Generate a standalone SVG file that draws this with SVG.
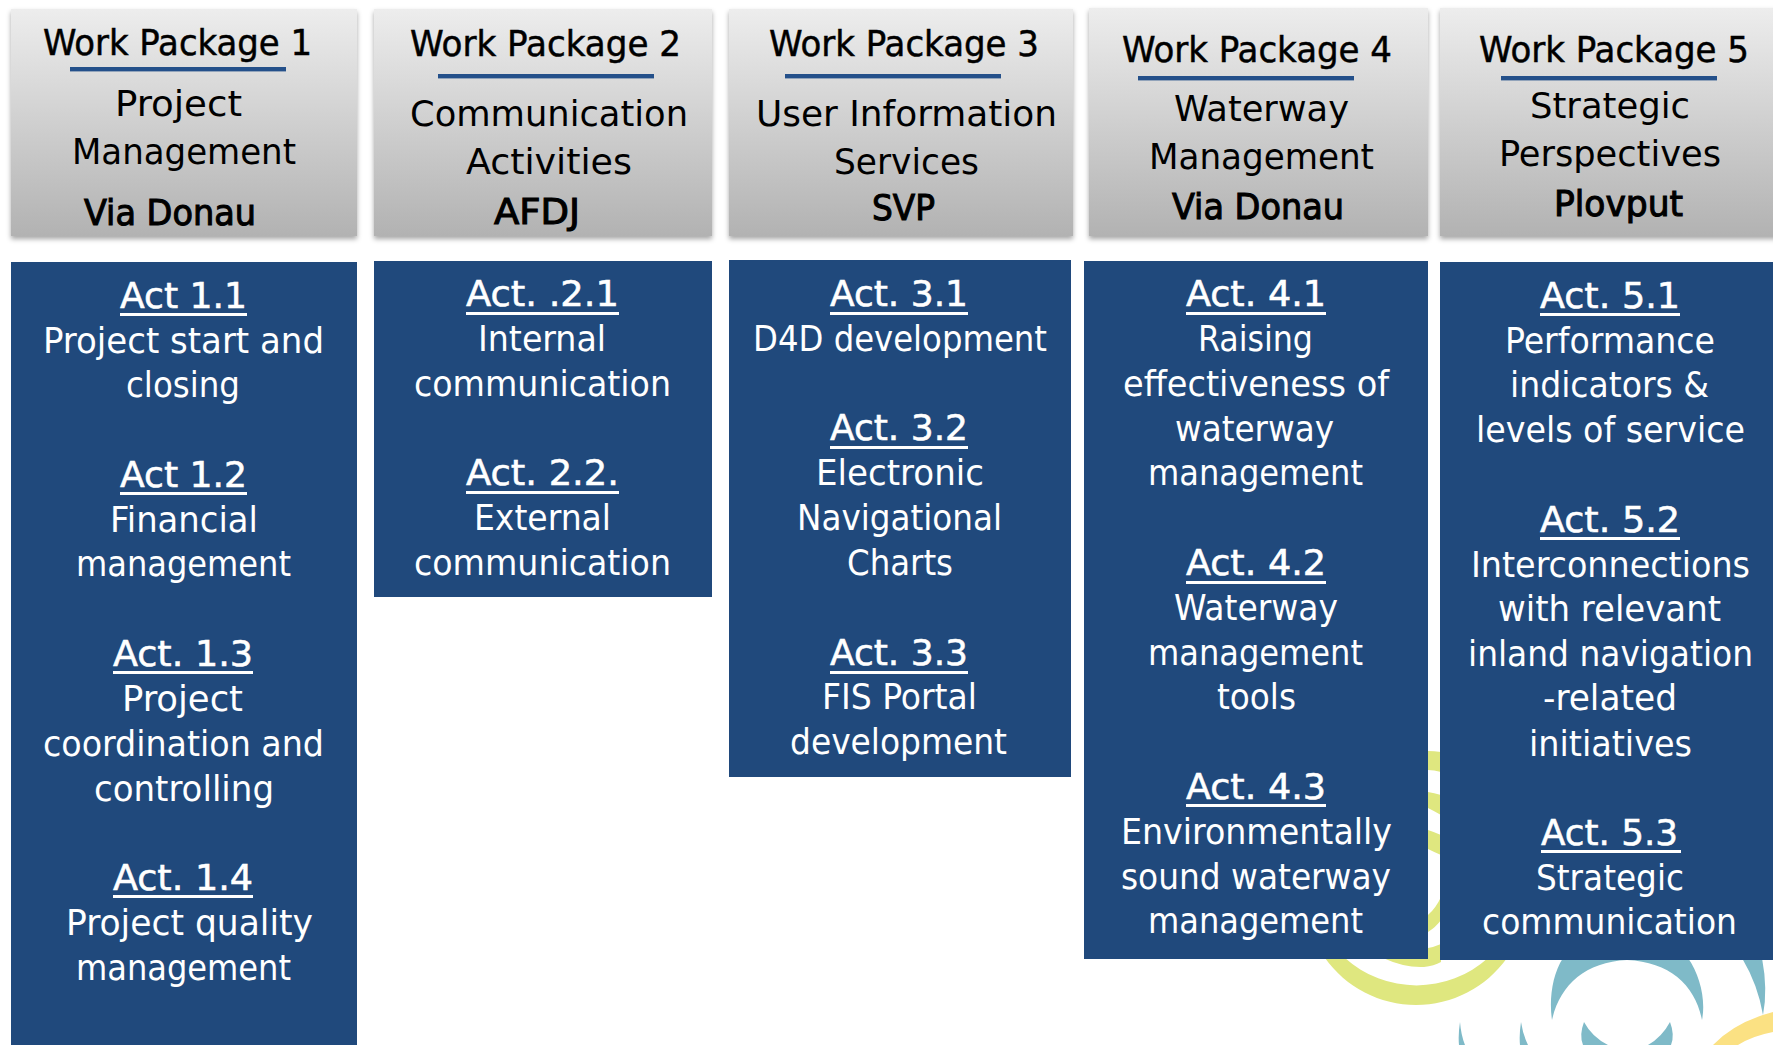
<svg xmlns="http://www.w3.org/2000/svg" width="1773" height="1045" viewBox="0 0 1773 1045">
<style>
text{font-family:"DejaVu Sans Condensed","DejaVu Sans","Liberation Sans",sans-serif;font-stretch:condensed;font-size:36px;text-anchor:start}
.d{fill:#000}.t{stroke:#000;stroke-width:.45}.b{stroke:#000;stroke-width:1}
.w{fill:#fff}.a{stroke:#fff;stroke-width:.5}
.hb{fill:url(#g);filter:url(#s)}.bl{fill:#20497c}.ln{fill:#24508a}.u{fill:#fff}
.y{fill:#dfe77f}.c{fill:#7fbac8}
</style>
<defs>
<linearGradient id="g" x1="0" y1="0" x2="0" y2="1"><stop offset="0" stop-color="#ededed"/><stop offset="1" stop-color="#b2b2b2"/></linearGradient>
<filter id="s" x="-5%" y="-5%" width="110%" height="110%"><feDropShadow dx="0" dy="3" stdDeviation="2.5" flood-color="#000" flood-opacity=".35"/></filter>
</defs>
<g id="swirls">
<path class="y" d="M1325 958A111.6 111.6 0 0 0 1507 958L1488 958A107 107 0 0 1 1345 958Z"/>
<path class="y" d="M1383 958Q1405 968 1424 967Q1434 966 1441 962V944Q1434 947 1428 948V958Z"/>
<path class="y" d="M1428 751Q1434 751 1441 752V772Q1434 770 1428 770ZM1428 792Q1434 793 1441 795V815Q1434 811 1428 808ZM1428 830Q1434 832 1441 835V855Q1434 852 1428 849ZM1428 932Q1436 927 1441 920V897Q1436 908 1428 915Z"/>
<path class="c" d="M1563 958C1552 975 1549 1000 1552 1020C1560 985 1585 962 1627 960C1670 962 1695 985 1702 1020C1706 1000 1700 975 1688 958Z"/>
<path class="c" d="M1742 958H1762Q1768 990 1763 1015Q1758 985 1742 958Z"/>
<path class="c" d="M1584 1022Q1579 1035 1583 1045H1671Q1675 1035 1670 1022Q1662 1037 1648 1045H1608Q1592 1037 1584 1022Z"/>
<path class="c" d="M1460 1022Q1458 1035 1459 1045H1465Q1461 1035 1460 1022ZM1521 1022Q1519 1035 1520 1045H1528Q1523 1035 1521 1022Z"/>
<path d="M1713 1045Q1735 1022 1773 1012V1032Q1752 1036 1738 1045Z" fill="#fbe183"/>
</g>
<g id="wp1">
<rect class="hb" x="11" y="9" width="346" height="227"/><rect class="ln" x="70" y="67" width="216" height="4.4"/>
<text class="d t" x="43" y="55" textLength="269" lengthAdjust="spacingAndGlyphs">Work Package 1</text>
<text class="d" x="115" y="116" textLength="127" lengthAdjust="spacingAndGlyphs">Project</text>
<text class="d" x="72" y="164" textLength="224" lengthAdjust="spacingAndGlyphs">Management</text>
<text class="d b" x="84" y="225" textLength="172" lengthAdjust="spacingAndGlyphs">Via Donau</text>
<rect class="bl" x="11" y="262" width="346" height="783"/>
<text class="w a" x="120" y="308" textLength="127" lengthAdjust="spacingAndGlyphs">Act 1.1</text><rect class="u" x="120" y="313" width="127" height="3"/>
<text class="w" x="43" y="353" textLength="281" lengthAdjust="spacingAndGlyphs">Project start and</text>
<text class="w" x="126" y="397" textLength="114" lengthAdjust="spacingAndGlyphs">closing</text>
<text class="w a" x="120" y="487" textLength="127" lengthAdjust="spacingAndGlyphs">Act 1.2</text><rect class="u" x="120" y="492" width="127" height="3"/>
<text class="w" x="110" y="532" textLength="148" lengthAdjust="spacingAndGlyphs">Financial</text>
<text class="w" x="76" y="576" textLength="215" lengthAdjust="spacingAndGlyphs">management</text>
<text class="w a" x="113" y="666" textLength="140" lengthAdjust="spacingAndGlyphs">Act. 1.3</text><rect class="u" x="113" y="671" width="140" height="3"/>
<text class="w" x="122" y="711" textLength="121" lengthAdjust="spacingAndGlyphs">Project</text>
<text class="w" x="43" y="756" textLength="281" lengthAdjust="spacingAndGlyphs">coordination and</text>
<text class="w" x="94" y="801" textLength="180" lengthAdjust="spacingAndGlyphs">controlling</text>
<text class="w a" x="113" y="890" textLength="140" lengthAdjust="spacingAndGlyphs">Act. 1.4</text><rect class="u" x="113" y="895" width="140" height="3"/>
<text class="w" x="66" y="935" textLength="247" lengthAdjust="spacingAndGlyphs">Project quality</text>
<text class="w" x="76" y="980" textLength="215" lengthAdjust="spacingAndGlyphs">management</text>
</g>
<g id="wp2">
<rect class="hb" x="374" y="9" width="338" height="227"/><rect class="ln" x="438" y="74" width="216" height="4.4"/>
<text class="d t" x="410" y="56" textLength="271" lengthAdjust="spacingAndGlyphs">Work Package 2</text>
<text class="d" x="410" y="126" textLength="278" lengthAdjust="spacingAndGlyphs">Communication</text>
<text class="d" x="466" y="174" textLength="166" lengthAdjust="spacingAndGlyphs">Activities</text>
<text class="d b" x="494" y="224" textLength="86" lengthAdjust="spacingAndGlyphs">AFDJ</text>
<rect class="bl" x="374" y="261" width="338" height="336"/>
<text class="w a" x="466" y="306" textLength="153" lengthAdjust="spacingAndGlyphs">Act. .2.1</text><rect class="u" x="466" y="312" width="153" height="3"/>
<text class="w" x="478" y="351" textLength="128" lengthAdjust="spacingAndGlyphs">Internal</text>
<text class="w" x="414" y="396" textLength="257" lengthAdjust="spacingAndGlyphs">communication</text>
<text class="w a" x="466" y="485" textLength="153" lengthAdjust="spacingAndGlyphs">Act. 2.2.</text><rect class="u" x="466" y="491" width="153" height="3"/>
<text class="w" x="474" y="530" textLength="137" lengthAdjust="spacingAndGlyphs">External</text>
<text class="w" x="414" y="575" textLength="257" lengthAdjust="spacingAndGlyphs">communication</text>
</g>
<g id="wp3">
<rect class="hb" x="729" y="9" width="344" height="227"/><rect class="ln" x="785" y="74" width="216" height="4.4"/>
<text class="d t" x="769" y="56" textLength="270" lengthAdjust="spacingAndGlyphs">Work Package 3</text>
<text class="d" x="756" y="126" textLength="301" lengthAdjust="spacingAndGlyphs">User Information</text>
<text class="d" x="834" y="174" textLength="145" lengthAdjust="spacingAndGlyphs">Services</text>
<text class="d b" x="872" y="220" textLength="63" lengthAdjust="spacingAndGlyphs">SVP</text>
<rect class="bl" x="729" y="260" width="342" height="517"/>
<text class="w a" x="830" y="306" textLength="138" lengthAdjust="spacingAndGlyphs">Act. 3.1</text><rect class="u" x="830" y="312" width="138" height="3"/>
<text class="w" x="753" y="351" textLength="294" lengthAdjust="spacingAndGlyphs">D4D development</text>
<text class="w a" x="830" y="440" textLength="138" lengthAdjust="spacingAndGlyphs">Act. 3.2</text><rect class="u" x="830" y="446" width="138" height="3"/>
<text class="w" x="816" y="485" textLength="168" lengthAdjust="spacingAndGlyphs">Electronic</text>
<text class="w" x="797" y="530" textLength="205" lengthAdjust="spacingAndGlyphs">Navigational</text>
<text class="w" x="847" y="575" textLength="106" lengthAdjust="spacingAndGlyphs">Charts</text>
<text class="w a" x="830" y="665" textLength="138" lengthAdjust="spacingAndGlyphs">Act. 3.3</text><rect class="u" x="830" y="671" width="138" height="3"/>
<text class="w" x="822" y="709" textLength="155" lengthAdjust="spacingAndGlyphs">FIS Portal</text>
<text class="w" x="790" y="754" textLength="217" lengthAdjust="spacingAndGlyphs">development</text>
</g>
<g id="wp4">
<rect class="hb" x="1089" y="8" width="339" height="228"/><rect class="ln" x="1138" y="76" width="216" height="4.4"/>
<text class="d t" x="1122" y="62" textLength="270" lengthAdjust="spacingAndGlyphs">Work Package 4</text>
<text class="d" x="1174" y="121" textLength="175" lengthAdjust="spacingAndGlyphs">Waterway</text>
<text class="d" x="1149" y="169" textLength="225" lengthAdjust="spacingAndGlyphs">Management</text>
<text class="d b" x="1172" y="219" textLength="172" lengthAdjust="spacingAndGlyphs">Via Donau</text>
<rect class="bl" x="1084" y="261" width="344" height="698"/>
<text class="w a" x="1186" y="306" textLength="140" lengthAdjust="spacingAndGlyphs">Act. 4.1</text><rect class="u" x="1186" y="312" width="140" height="3"/>
<text class="w" x="1198" y="351" textLength="115" lengthAdjust="spacingAndGlyphs">Raising</text>
<text class="w" x="1123" y="396" textLength="266" lengthAdjust="spacingAndGlyphs">effectiveness of</text>
<text class="w" x="1175" y="441" textLength="159" lengthAdjust="spacingAndGlyphs">waterway</text>
<text class="w" x="1148" y="485" textLength="215" lengthAdjust="spacingAndGlyphs">management</text>
<text class="w a" x="1186" y="575" textLength="140" lengthAdjust="spacingAndGlyphs">Act. 4.2</text><rect class="u" x="1186" y="581" width="140" height="3"/>
<text class="w" x="1174" y="620" textLength="164" lengthAdjust="spacingAndGlyphs">Waterway</text>
<text class="w" x="1148" y="665" textLength="215" lengthAdjust="spacingAndGlyphs">management</text>
<text class="w" x="1217" y="709" textLength="79" lengthAdjust="spacingAndGlyphs">tools</text>
<text class="w a" x="1186" y="799" textLength="140" lengthAdjust="spacingAndGlyphs">Act. 4.3</text><rect class="u" x="1186" y="804" width="140" height="3"/>
<text class="w" x="1121" y="844" textLength="271" lengthAdjust="spacingAndGlyphs">Environmentally</text>
<text class="w" x="1121" y="889" textLength="270" lengthAdjust="spacingAndGlyphs">sound waterway</text>
<text class="w" x="1148" y="933" textLength="215" lengthAdjust="spacingAndGlyphs">management</text>
</g>
<g id="wp5">
<rect class="hb" x="1440" y="8" width="340" height="228"/><rect class="ln" x="1501" y="76" width="216" height="4.4"/>
<text class="d t" x="1479" y="62" textLength="270" lengthAdjust="spacingAndGlyphs">Work Package 5</text>
<text class="d" x="1530" y="118" textLength="160" lengthAdjust="spacingAndGlyphs">Strategic</text>
<text class="d" x="1499" y="166" textLength="222" lengthAdjust="spacingAndGlyphs">Perspectives</text>
<text class="d b" x="1554" y="216" textLength="129" lengthAdjust="spacingAndGlyphs">Plovput</text>
<rect class="bl" x="1440" y="262" width="333" height="698"/>
<text class="w a" x="1540" y="308" textLength="140" lengthAdjust="spacingAndGlyphs">Act. 5.1</text><rect class="u" x="1540" y="313" width="140" height="3"/>
<text class="w" x="1505" y="353" textLength="210" lengthAdjust="spacingAndGlyphs">Performance</text>
<text class="w" x="1510" y="397" textLength="199" lengthAdjust="spacingAndGlyphs">indicators &amp;</text>
<text class="w" x="1476" y="442" textLength="269" lengthAdjust="spacingAndGlyphs">levels of service</text>
<text class="w a" x="1540" y="532" textLength="140" lengthAdjust="spacingAndGlyphs">Act. 5.2</text><rect class="u" x="1540" y="537" width="140" height="3"/>
<text class="w" x="1471" y="577" textLength="279" lengthAdjust="spacingAndGlyphs">Interconnections</text>
<text class="w" x="1498" y="621" textLength="223" lengthAdjust="spacingAndGlyphs">with relevant</text>
<text class="w" x="1468" y="666" textLength="285" lengthAdjust="spacingAndGlyphs">inland navigation</text>
<text class="w" x="1543" y="710" textLength="134" lengthAdjust="spacingAndGlyphs">-related</text>
<text class="w" x="1529" y="756" textLength="163" lengthAdjust="spacingAndGlyphs">initiatives</text>
<text class="w a" x="1541" y="845" textLength="137" lengthAdjust="spacingAndGlyphs">Act. 5.3</text><rect class="u" x="1541" y="850" width="140" height="3"/>
<text class="w" x="1536" y="890" textLength="148" lengthAdjust="spacingAndGlyphs">Strategic</text>
<text class="w" x="1482" y="934" textLength="255" lengthAdjust="spacingAndGlyphs">communication</text>
</g>
</svg>
